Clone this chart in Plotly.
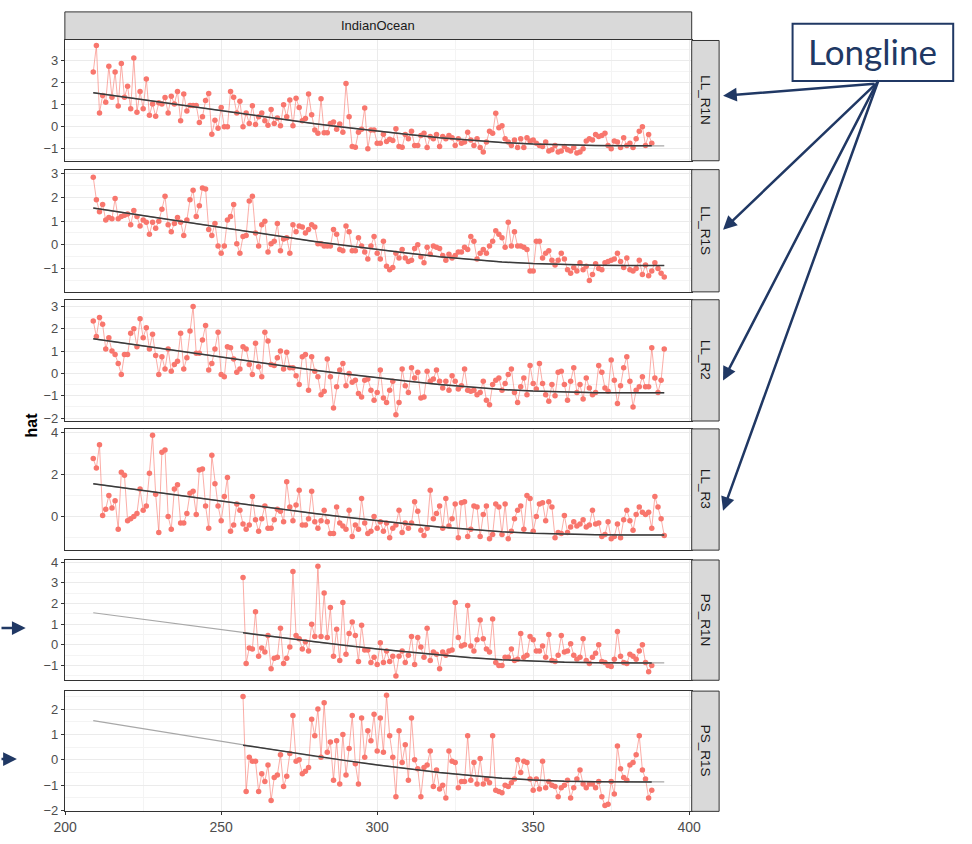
import plotly.graph_objects as go

W, H = 972, 844

# ---------------- data ----------------
LL_START = 209
PS_START = 257

ll_r1n = [
    2.49, 3.70, 0.63, 1.42, 1.12, 2.76, 1.34, 2.49, 0.94, 2.88,
    1.34, 1.84, 0.82, 3.13, 0.66, 1.61, 0.82, 2.18, 0.52, 1.04,
    0.48, 1.09, 1.04, 1.33, 0.63, 1.39, 1.04, 1.61, 0.27, 1.49,
    0.72, 0.97, 0.97, 0.97, 0.19, 0.46, 1.19, 1.52, -0.34, 0.30,
    -0.07, 0.88, 0.00, 0.00, 1.61, 1.34, 0.63, 1.16, 0.00, 0.63,
    0.15, 0.96, 0.10, 0.45, 0.63, 0.27, 0.07, 0.78, 0.15, 0.40,
    0.04, 1.00, 0.45, 1.22, 0.04, 1.30, 0.88, 0.27, 0.37, 1.49,
    0.55, -0.15, -0.30, 1.27, -0.27, -0.27, 0.15, 0.22, -0.12, 0.12,
    -0.25, 1.97, 0.45, -0.90, -0.94, -0.25, -0.12, 0.85, -1.00, -0.15,
    -0.15, -0.75, -0.75, -0.34, -0.67, -0.57, -0.63, -0.09, -0.90, -0.93,
    -0.35, -0.55, -0.20, -0.85, -0.85, -0.40, -0.30, -0.95, -0.45, -0.55,
    -0.35, -0.90, -0.45, -0.55, -0.40, -0.50, -0.85, -0.55, -0.75, -0.70,
    -0.25, -0.60, -0.85, -0.55, -0.95, -1.15, -0.70, -0.20, -0.30, 0.62,
    -0.05, 0.05, -0.55, -0.70, -0.85, -0.60, -0.95, -0.55, -0.95, -0.50,
    -0.65, -0.60, -0.75, -0.85, -0.90, -0.70, -1.10, -1.05, -0.85, -1.15,
    -1.10, -0.90, -1.05, -1.10, -0.95, -1.20, -1.15, -1.00, -0.65, -0.55,
    -0.60, -0.35, -0.45, -0.40, -0.30, -0.85, -1.00, -0.65, -0.70, -0.95,
    -0.50, -0.85, -0.75, -0.95, -0.55, -0.20, 0.00, -0.85, -0.35, -0.75,
]

ll_r1s = [
    2.85, 1.90, 1.40, 1.70, 1.05, 1.15, 1.10, 1.95, 1.10, 1.20,
    1.25, 1.30, 0.85, 1.45, 1.20, 0.80, 1.05, 0.95, 0.45, 0.95,
    0.70, 1.00, 1.50, 2.05, 0.85, 0.55, 0.90, 1.15, 0.95, 0.40,
    1.05, 1.90, 2.30, 1.20, 1.65, 2.40, 2.35, 0.65, 0.40, 0.90,
    -0.05, -0.35, -0.05, 1.05, 1.20, 1.70, 0.05, -0.35, 0.35, 0.40,
    1.85, 2.05, 0.50, -0.05, 0.85, 1.00, -0.30, 0.05, 0.15, 0.90,
    -0.25, 0.25, 0.30, -0.35, 0.85, 0.55, 0.80, 0.75, 0.50, 0.65,
    0.85, 0.75, 0.05, 0.05, -0.05, -0.05, -0.05, 0.65, 0.45, -0.20,
    -0.25, 0.80, 0.55, -0.25, -0.25, 0.30, -0.05, -0.30, -0.60, -0.05,
    0.35, -0.35, -0.60, 0.15, -0.90, -1.05, -0.95, -0.35, -0.55, -0.20,
    -0.55, -0.70, -0.65, -0.15, 0.00, -0.50, -0.75, -0.10, -0.40, -0.05,
    -0.10, -0.15, -0.45, -0.65, -0.40, -0.55, -0.45, -0.30, -0.30, -0.10,
    -0.20, 0.35, 0.15, -0.60, -0.35, -0.20, -0.35, -0.05, 0.15, 0.60,
    0.45, 0.30, -0.10, 0.95, -0.05, 0.55, -0.05, -0.05, -0.10, -0.20,
    -1.10, -1.10, 0.15, 0.15, -0.55, -0.35, -0.25, -0.65, -0.85, -0.65,
    -0.35, -0.60, -1.05, -1.20, -0.95, -1.10, -0.75, -1.05, -0.90, -1.50,
    -1.25, -0.80, -1.00, -1.05, -0.75, -0.70, -0.65, -0.60, -0.35, -0.70,
    -0.95, -0.55, -1.05, -1.10, -1.00, -0.65, -1.25, -0.85, -1.30, -1.10,
    -0.75, -1.00, -1.20, -1.35,
]

ll_r2 = [
    2.35, 1.65, 2.50, 2.20, 1.10, 1.60, 1.00, 0.85, 0.45, -0.05,
    0.85, 0.85, 1.80, 2.00, 1.20, 2.45, 1.60, 2.05, 1.10, 1.75,
    0.80, -0.05, 0.75, 0.20, 1.10, 0.10, 0.40, 0.55, 1.80, 0.20,
    0.70, 1.90, 3.00, 0.90, 0.90, 1.50, 2.15, 0.15, 0.45, 1.10,
    1.85, -0.05, -0.15, 1.20, 1.15, 0.65, 0.05, 0.20, 1.20, 1.10,
    0.40, -0.05, 1.35, 0.30, -0.15, 1.85, 1.45, 0.40, 0.35, 0.70,
    1.00, 0.20, 0.95, 0.25, 0.25, -0.10, -0.50, 0.75, 0.85, -0.75,
    0.75, 0.10, -0.15, -0.95, -0.80, 0.65, -0.15, -1.55, -0.60, 0.15,
    0.45, -0.55, 0.00, -0.40, -0.30, -0.90, -1.05, -0.30, -0.25, -0.75,
    -1.20, -0.85, 0.15, -1.10, -1.30, -0.75, -0.35, -1.85, -1.30, 0.20,
    -0.55, -0.85, 0.25, -0.20, 0.05, -1.10, -1.05, 0.10, -0.35, -0.25,
    0.15, -0.35, -0.65, -0.35, -0.75, -0.10, -0.35, -0.70, -0.55, 0.20,
    -0.75, -0.80, -0.75, -0.95, -0.85, -0.35, -1.20, -1.40, -0.50, -0.30,
    -0.20, -0.75, -0.45, -0.05, 0.20, -0.85, -1.30, -0.60, -0.20, -0.95,
    0.35, -0.45, -0.70, 0.45, -0.45, -0.95, -1.25, -0.50, -1.00, 0.05,
    0.10, -0.50, -1.20, -0.35, 0.25, -0.85, -0.50, -1.15, -0.20, -0.65,
    -0.95, -0.85, 0.35, 0.05, -0.65, -0.80, 0.60, -0.30, -1.35, -0.55,
    0.25, 0.75, -0.35, -1.50, -0.75, -0.60, -0.15, -0.60, -0.60, 1.15,
    -0.20, -0.85, -0.30, 1.10,
]

ll_r3 = [
    2.75, 2.30, 3.40, 0.05, 0.35, 1.00, 0.40, 0.75, -0.60, 2.10,
    1.95, -0.20, -0.10, 0.00, 0.15, 1.30, 0.30, 0.50, 2.05, 3.85,
    1.05, -0.75, 3.05, 3.15, 0.00, -0.60, 1.30, 1.50, -0.30, -0.30,
    0.15, 1.10, 1.20, 0.10, 2.20, 2.25, 0.50, -0.55, 2.90, 1.55,
    0.50, -0.20, 0.95, 1.85, -0.70, -0.40, 0.60, 0.30, -0.35, -0.60,
    -0.40, 0.95, -0.15, -0.70, -0.10, 0.50, -0.55, -0.55, -0.15, 0.35,
    0.25, -0.25, 1.65, 0.45, -0.20, 0.55, 1.25, -0.40, -0.40, -0.10,
    1.20, -0.25, -0.55, -0.20, 0.30, -0.25, -0.80, -0.80, 0.45, -0.30,
    -0.45, -0.60, 0.30, -0.95, -0.40, -0.60, 0.85, -0.30, -0.80, -0.70,
    0.00, -0.55, -0.25, -0.70, -0.30, -1.00, -0.55, -0.40, 0.30, -0.75,
    -0.30, -0.55, -0.30, 0.70, 0.25, -0.65, -0.90, -0.55, 1.25, -0.10,
    0.15, 0.50, -0.55, 0.85, -0.45, -0.10, 0.60, -1.00, 0.65, 0.70,
    -0.95, -0.60, 0.50, 0.45, -0.95, 0.10, 0.50, -1.05, -0.85, 0.60,
    0.45, -0.85, 0.60, -1.05, -0.70, -0.10, 0.30, 0.50, -0.60, 1.00,
    0.85, -0.70, 0.00, 0.60, 0.65, -0.20, 0.70, 0.45, -1.00, -0.75,
    -0.80, 0.05, -0.75, -0.50, -0.25, -0.45, -0.35, -0.15, -0.50, -0.40,
    0.30, -0.35, -0.30, -0.95, -0.85, -0.25, -1.05, -0.95, -0.35, -1.00,
    -0.15, 0.30, -0.20, -0.65, 0.10, 0.45, 0.20, 0.10, 0.20, -0.55,
    0.95, 0.45, -0.10, -0.90,
]

ps_r1n = [
    3.25, -0.90, -0.15, -0.20, 1.60, -0.55, -0.15, -0.35, 0.45, -1.15,
    -0.65, -0.60, 0.80, -0.90, -0.65, -0.10, 3.55, 0.45, 0.30, -0.20,
    0.15, -0.30, 1.00, 0.40, 3.80, 0.40, 2.50, 0.35, 1.80, -0.55,
    0.75, -0.75, 2.05, -0.45, 0.55, 1.10, 0.45, -0.80, 0.95, -0.25,
    -0.25, -0.85, -0.60, -0.95, 0.10, -0.85, -0.30, -0.80, -0.55, -1.50,
    -0.55, -0.30, -0.85, -0.50, 0.40, -0.95, 0.35, -0.10, -0.60, 0.80,
    -0.75, -0.35, -0.45, -1.15, -0.35, -0.50, -0.30, -0.25, 2.05, 0.35,
    -0.05, 0.00, 1.90, -0.05, -0.30, 0.25, 1.20, 0.30, -0.20, -0.35,
    1.25, -0.85, -1.00, -1.00, -0.60, -0.60, -0.20, -0.75, -0.70, 0.55,
    -0.60, -0.50, 0.40, 0.25, -0.30, -0.30, -0.05, -0.60, 0.50, -0.75,
    -0.80, -0.50, 0.45, -0.35, -0.30, 0.05, -0.50, -0.70, -0.60, 0.30,
    -0.75, -0.90, -0.60, -0.40, 0.00, -0.80, -0.85, -1.00, -1.05, -0.70,
    0.65, -0.55, -0.85, -0.90, -0.45, -0.55, -0.70, -0.30, 0.00, -0.85,
    -1.30, -1.00,
]

ps_r1s = [
    2.50, -1.25, 0.10, -0.05, -0.05, -1.25, -0.55, -0.85, -0.20, -1.60,
    -0.70, -0.60, 0.20, -1.05, -0.65, 0.25, 1.75, -0.05, 0.00, -0.55,
    -0.45, -0.30, 1.60, 0.95, 2.00, 0.10, 2.25, 0.30, 0.70, -0.80,
    0.75, -0.95, 1.00, -0.60, 0.45, 1.75, -0.15, -0.95, 1.65, 0.10,
    1.15, 0.75, 1.80, 0.35, 1.65, 0.30, 2.55, 0.95, 0.10, -1.45,
    1.15, -0.10, 0.60, -0.80, 1.65, 0.00, -0.35, -1.45, -0.30, -0.20,
    0.35, -1.05, -0.40, -1.15, -1.00, -1.50, 0.35, -0.05, -0.10, -1.10,
    -0.85, -0.85, 0.95, -0.80, -0.10, -0.95, 0.05, -0.95, -0.75, -0.90,
    0.95, -1.20, -1.25, -1.30, -1.00, -1.05, -0.90, -0.75, 0.00, -0.50,
    -0.05, -0.10, -0.75, -1.20, -0.75, -1.15, -0.05, -1.10, -0.85, -1.00,
    -1.05, -1.45, -1.10, -1.00, -0.80, -1.50, -1.10, -0.75, -0.40, -0.95,
    -1.10, -0.95, -0.95, -1.10, -0.85, -1.45, -1.80, -1.75, -0.85, -1.35,
    0.55, -0.35, -0.70, -0.80, -0.20, -0.10, 0.20, 0.95, -0.40, -0.75,
    -1.50, -1.20,
]

trend_years = [209, 220, 230, 240, 250, 257, 270, 280, 290, 300, 310, 320,
               330, 340, 350, 360, 370, 380, 388, 392]
trend_vals = [1.55, 1.33, 1.13, 0.93, 0.74, 0.58, 0.33, 0.14, -0.03, -0.20,
              -0.35, -0.50, -0.62, -0.72, -0.79, -0.84, -0.86, -0.87, -0.87, -0.87]

panel_names = ["LL_R1N", "LL_R1S", "LL_R2", "LL_R3", "PS_R1N", "PS_R1S"]
panel_series = [ll_r1n, ll_r1s, ll_r2, ll_r3, ps_r1n, ps_r1s]
panel_starts = [LL_START, LL_START, LL_START, LL_START, PS_START, PS_START]
facet_title = "IndianOcean"
y_title = "hat"
callout_text = "Longline"
x_tick_vals = [200, 250, 300, 350, 400]

# ---------------- geometry / style ----------------
PX_L, PX_R = 55, 695
STRIP_W = 28
tops = [36, 167, 299, 430, 563, 696]
bottoms = [158, 291, 422, 553, 685, 818]
y_ranges = [[-1.55, 3.93], [-1.98, 3.17], [-2.13, 3.30],
            [-1.59, 4.15], [-1.71, 4.10], [-2.03, 2.71]]
y_dticks = [1, 1, 1, 2, 1, 1]
X_RANGE = [199.9, 400.8]

RED = "#F8766D"
NAVY = "#203864"
BORDER = "#333333"
GRID = "#EBEBEB"
GRID_MINOR = "#F4F4F4"
FONT = "Liberation Sans, Arial, sans-serif"


def px_x(p):
    return p / W


def px_y(p):
    return 1 - p / H


fig = go.Figure()
layout = dict(
    width=W, height=H, autosize=False,
    margin=dict(l=0, r=0, t=0, b=0, pad=0),
    paper_bgcolor="white", plot_bgcolor="white",
    showlegend=False,
    font=dict(family=FONT),
)
shapes = []
annotations = []

for i, (name, vals, start) in enumerate(zip(panel_names, panel_series, panel_starts)):
    sfx = "" if i == 0 else str(i + 1)
    xs = list(range(start, start + len(vals)))
    xa, ya = "x" + sfx, "y" + sfx

    fig.add_trace(go.Scatter(
        x=xs, y=vals, mode="lines+markers",
        line=dict(color="rgba(248,118,109,0.6)", width=1),
        marker=dict(color=RED, size=5.5),
        xaxis=xa, yaxis=ya, hoverinfo="skip"))
    # full-length light trend
    fig.add_trace(go.Scatter(
        x=trend_years, y=trend_vals, mode="lines",
        line=dict(color="#A8A8A8", width=1.2),
        xaxis=xa, yaxis=ya, hoverinfo="skip"))
    # dark trend over the span with data
    lo, hi = xs[0], xs[-1]
    ty = [t for t in trend_years if lo <= t <= hi]
    tv = [v for t, v in zip(trend_years, trend_vals) if lo <= t <= hi]
    fig.add_trace(go.Scatter(
        x=ty, y=tv, mode="lines",
        line=dict(color="#3A3A3A", width=1.5),
        xaxis=xa, yaxis=ya, hoverinfo="skip"))

    top, bot = tops[i], bottoms[i]
    is_bottom = (i == len(panel_names) - 1)
    layout["xaxis" + sfx] = dict(
        domain=[px_x(PX_L), px_x(PX_R)], range=X_RANGE,
        anchor=ya, tickmode="array", tickvals=x_tick_vals,
        showticklabels=is_bottom, ticks="outside" if is_bottom else "",
        ticklen=3, tickcolor=BORDER,
        tickfont=dict(size=14, color="#4D4D4D", family=FONT),
        showgrid=True, gridcolor=GRID, gridwidth=1,
        minor=dict(tick0=0, dtick=25, showgrid=True, gridcolor=GRID_MINOR, gridwidth=0.6),
        showline=True, mirror=True, linecolor=BORDER, linewidth=1,
        zeroline=False, fixedrange=True)
    dt = y_dticks[i]
    layout["yaxis" + sfx] = dict(
        domain=[px_y(bot), px_y(top)], range=y_ranges[i],
        anchor=xa, tick0=0, dtick=dt,
        ticks="outside", ticklen=3, tickcolor=BORDER,
        tickfont=dict(size=13, color="#4D4D4D", family=FONT),
        showgrid=True, gridcolor=GRID, gridwidth=1,
        minor=dict(tick0=0, dtick=dt / 2, showgrid=True, gridcolor=GRID_MINOR, gridwidth=0.6),
        showline=True, mirror=True, linecolor=BORDER, linewidth=1,
        zeroline=False, fixedrange=True)

    # right facet strip
    shapes.append(dict(type="rect", xref="paper", yref="paper",
                       x0=px_x(PX_R), x1=px_x(PX_R + STRIP_W),
                       y0=px_y(bot), y1=px_y(top),
                       fillcolor="#D9D9D9", line=dict(color=BORDER, width=1)))
    annotations.append(dict(xref="paper", yref="paper",
                            x=px_x(PX_R + STRIP_W / 2), y=px_y((top + bot) / 2),
                            xanchor="center", yanchor="middle",
                            text=name, showarrow=False, textangle=90,
                            font=dict(size=13.5, color="#1A1A1A", family=FONT)))

# top facet strip
shapes.append(dict(type="rect", xref="paper", yref="paper",
                   x0=px_x(PX_L), x1=px_x(PX_R), y0=px_y(35), y1=px_y(7),
                   fillcolor="#D9D9D9", line=dict(color=BORDER, width=1)))
annotations.append(dict(xref="paper", yref="paper", x=px_x((PX_L + PX_R) / 2), y=px_y(21),
                        xanchor="center", yanchor="middle",
                        text=facet_title, showarrow=False,
                        font=dict(size=13, color="#1A1A1A", family=FONT)))

# y-axis title
annotations.append(dict(xref="paper", yref="paper", x=px_x(21), y=px_y(426),
                        xanchor="center", yanchor="middle",
                        text="<b>" + y_title + "</b>", showarrow=False, textangle=-90,
                        font=dict(size=16, color="black", family=FONT)))

# "Longline" callout box
shapes.append(dict(type="rect", xref="paper", yref="paper",
                   x0=px_x(798), x1=px_x(962), y0=px_y(77), y1=px_y(19),
                   fillcolor="white", line=dict(color=NAVY, width=2)))
annotations.append(dict(xref="paper", yref="paper", x=px_x(880), y=px_y(47),
                        xanchor="center", yanchor="middle",
                        text=callout_text, showarrow=False,
                        font=dict(size=35, color=NAVY, family="Lato, Open Sans, sans-serif")))

# arrows: (head px), (tail px)
arrows = [((727, 92), (880, 80)), ((727, 228), (881, 81)),
          ((727, 381), (882, 81)), ((727, 513), (883, 81)),
          ((15, 632), (-30, 632)), ((6, 765), (-40, 765))]
for (hx, hy), (tx, ty_) in arrows:
    annotations.append(dict(xref="paper", yref="paper", x=px_x(hx), y=px_y(hy),
                            ax=tx - hx, ay=ty_ - hy, text="", showarrow=True,
                            arrowhead=2, arrowsize=1.1, arrowwidth=2.5,
                            arrowcolor=NAVY, standoff=0))

layout["shapes"] = shapes
layout["annotations"] = annotations
fig.update_layout(**layout)
fig.write_html("out.html", config={"displayModeBar": False})
